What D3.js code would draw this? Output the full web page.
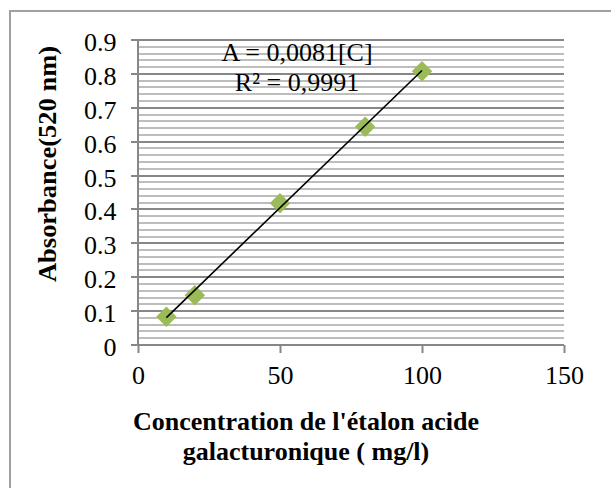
<!DOCTYPE html>
<html>
<head>
<meta charset="utf-8">
<script src="https://cdn.jsdelivr.net/npm/d3@7"></script>
<style>
  html, body { margin: 0; padding: 0; background: #fff; }
  svg { display: block; }
  text { font-family: "Liberation Serif", "Times New Roman", serif; fill: #000; }
</style>
</head>
<body>
<svg id="chart" width="611" height="488"></svg>
<script>
// ---- data ----
const concentrations = [10, 20, 50, 80, 100];
const absorbances = [0.083, 0.147, 0.418, 0.644, 0.808];
const trendRange = [10, 100];
const trendSlope = 0.0081;
const xTicks = [0, 50, 100, 150];
const yTicks = [0, 0.1, 0.2, 0.3, 0.4, 0.5, 0.6, 0.7, 0.8, 0.9];
const equationLines = ["A = 0,0081[C]", "R\u00B2 = 0,9991"];
const xTitleLines = ["Concentration de l'\u00E9talon acide", "galacturonique ( mg/l)"];
const yTitle = "Absorbance(520 nm)";

// ---- layout ----
const svg = d3.select("#chart");
const L = 138, R = 564, T = 40, B = 345;
const x = d3.scaleLinear().domain([0, 150]).range([L, R]);
const y = d3.scaleLinear().domain([0, 0.9]).range([B, T]);
const ys = v => Math.round(y(v));

// outer border (clipped at right/bottom)
svg.append("rect").attr("x", 10).attr("y", 11).attr("width", 700).attr("height", 600)
  .attr("fill", "none").attr("stroke", "#a0a0a0").attr("stroke-width", 2);

// minor gridlines
const minor = d3.range(0, 0.9001, 0.02).filter(v => Math.abs(Math.round(v * 10) - v * 10) > 1e-6);
svg.append("g").selectAll("line").data(minor).join("line")
  .attr("x1", L).attr("x2", R)
  .attr("y1", ys).attr("y2", ys)
  .attr("stroke", "#bdbdbd").attr("stroke-width", 2);

// major gridlines
svg.append("g").selectAll("line").data(yTicks.filter(d => d > 0)).join("line")
  .attr("x1", L).attr("x2", R)
  .attr("y1", ys).attr("y2", ys)
  .attr("stroke", "#878787").attr("stroke-width", 2);

// y axis
const yAxis = svg.append("g").attr("transform", `translate(${L},0)`)
  .call(d3.axisLeft(y).tickValues(yTicks).tickFormat(d3.format(".1~f")).tickSize(7).tickPadding(0));
yAxis.select(".domain").attr("stroke", "#878787").attr("stroke-width", 2)
  .attr("d", `M0,${T - 1}V${B + 1}`);
yAxis.selectAll(".tick").attr("transform", d => `translate(0,${ys(d)})`);
yAxis.selectAll(".tick line").attr("stroke", "#878787").attr("stroke-width", 2);
yAxis.selectAll(".tick text")
  .attr("x", -21.6).attr("dy", null).attr("y", 11)
  .attr("font-size", 26).attr("font-family", "Liberation Serif").attr("fill", "#000");

// x axis
const xAxis = svg.append("g").attr("transform", `translate(0,${B})`)
  .call(d3.axisBottom(x).tickValues(xTicks).tickFormat(d3.format("d")).tickSize(8).tickPadding(0));
xAxis.select(".domain").attr("stroke", "#878787").attr("stroke-width", 2)
  .attr("d", `M${L - 7},0H${R}`);
xAxis.selectAll(".tick line").attr("stroke", "#878787").attr("stroke-width", 2);
xAxis.selectAll(".tick text")
  .attr("y", 39).attr("dy", null)
  .attr("font-size", 26).attr("font-family", "Liberation Serif").attr("fill", "#000");

// points (diamonds)
const diamond = d3.symbol().type(d3.symbolSquare).size(210);
svg.append("g").selectAll("path").data(concentrations).join("path")
  .attr("d", diamond)
  .attr("transform", (d, i) => `translate(${x(d)},${y(absorbances[i])}) rotate(45)`)
  .attr("fill", "#9BBB59");

// trendline
svg.append("path")
  .datum(trendRange)
  .attr("d", d3.line().x(d => x(d)).y(d => y(d * trendSlope)))
  .attr("stroke", "#000").attr("stroke-width", 1.6).attr("fill", "none");

// equation
svg.append("g").selectAll("text").data(equationLines).join("text")
  .attr("x", 297).attr("y", (d, i) => 61 + i * 30)
  .attr("text-anchor", "middle").attr("font-size", 26)
  .text(d => d);

// x title
svg.append("g").selectAll("text").data(xTitleLines).join("text")
  .attr("x", 306).attr("y", (d, i) => 430 + i * 30)
  .attr("text-anchor", "middle").attr("font-size", 26).attr("font-weight", "bold")
  .text(d => d);

// y title
svg.append("text")
  .attr("transform", "translate(56,164) rotate(-90)")
  .attr("text-anchor", "middle").attr("font-size", 26).attr("font-weight", "bold")
  .attr("textLength", 236).attr("lengthAdjust", "spacingAndGlyphs")
  .text(yTitle);
</script>
</body>
</html>
